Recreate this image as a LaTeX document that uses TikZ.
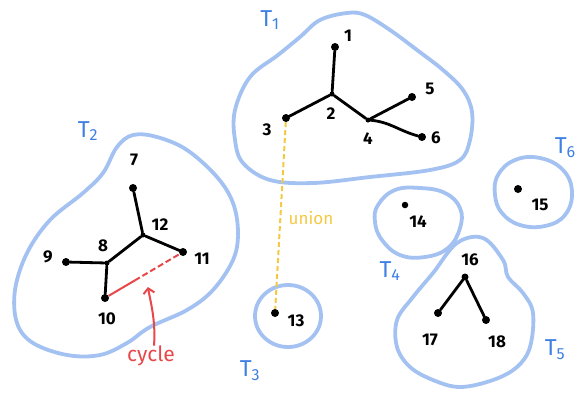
\documentclass[tikz,border=0pt]{standalone}
\usepackage{fontspec}
\setmainfont{Fira Sans}
\usetikzlibrary{arrows.meta,calc}
\definecolor{blobblue}{HTML}{A3C2F2}
\definecolor{tblue}{HTML}{3D7FE3}
\definecolor{uyellow}{HTML}{F5C842}
\definecolor{cred}{HTML}{E8474A}
\tikzset{
  blob/.style={draw=blobblue,line width=3.8pt,line join=round},
  vdot/.style={circle,fill=black,inner sep=0pt,minimum size=8pt},
  jdot/.style={circle,fill=black,inner sep=0pt,minimum size=5pt},
  edge/.style={line width=2.8pt,line cap=round},
  num/.style={font=\fontsize{17}{17}\selectfont\bfseries,inner sep=0pt},
  tlab/.style={font=\fontsize{23}{23}\selectfont,text=tblue,inner sep=0pt},
  unionline/.style={draw=uyellow,line width=2pt,dash pattern=on 5pt off 3pt},
  cycline/.style={draw=cred,line width=2pt},
}
\begin{document}
\begin{tikzpicture}[x=1pt,y=-1pt]
\useasboundingbox (0,0) rectangle (578,392);
% blobs
\draw[blob] plot[smooth cycle,tension=0.6] coordinates {(235,110) (250,77) (278,55) (300,37) (320,20) (347,13) (365,15) (390,30) (417,50) (443,70) (463,90) (472,112) (470,140) (460,160) (430,170) (370,177) (313,183) (270,180) (243,163) (235,140)};
\draw[blob] plot[smooth cycle,tension=0.6] coordinates {(133,135) (157,137) (187,150) (217,177) (233,203) (238,233) (233,260) (213,290) (187,310) (150,327) (127,343) (100,355) (67,355) (33,343) (17,323) (15,290) (27,253) (50,220) (83,193) (103,173) (117,147)};
\draw[blob] (288,316) ellipse [x radius=33pt,y radius=31pt];
\draw[blob] plot[smooth cycle,tension=0.7] coordinates {(378,205) (395,190) (420,188) (445,193) (460,208) (460,228) (448,248) (425,257) (400,255) (382,240) (375,222)};
\draw[blob] plot[smooth cycle,tension=0.7] coordinates {(498,175) (515,160) (540,158) (563,170) (572,192) (565,215) (545,226) (520,225) (502,213) (495,195)};
\draw[blob] plot[smooth cycle,tension=0.6] coordinates {(457,243) (483,238) (503,260) (508,277) (523,293) (533,313) (530,347) (517,367) (493,380) (460,387) (433,380) (410,367) (397,347) (397,320) (413,297) (433,273)};
% T1 nodes
\node[vdot] (n1) at (335,47) {};
\node[jdot] (n2) at (332,94) {};
\node[vdot] (n3) at (286,118) {};
\node[jdot] (n4) at (368,120) {};
\node[vdot] (n5) at (412,97) {};
\node[vdot] (n6) at (422,137) {};
\draw[edge] (n1) -- (n2);
\draw[edge] (n2) -- (n3);
\draw[edge] (n2) -- (n4);
\draw[edge] (n4) -- (n5);
\draw[edge] (n4) to[out=-5,in=165] (n6);
\node[num] (l1) at (348,36) {1};
\node[num] (l2) at (331,114) {2};
\node[num] (l3) at (267,130) {3};
\node[num] (l4) at (368,139) {4};
\node[num] (l5) at (430,89) {5};
\node[num] (l6) at (436,138) {6};
% T2 nodes
\node[vdot] (n7) at (133,188) {};
\node[jdot] (n12) at (143,235) {};
\node[vdot] (n11) at (183,252) {};
\node[jdot] (n8) at (107,263) {};
\node[vdot] (n9) at (66,262) {};
\node[vdot] (n10) at (105,298) {};
\draw[edge] (n7) -- (n12);
\draw[edge] (n12) -- (n11);
\draw[edge] (n12) -- (n8);
\draw[edge] (n8) -- (n9);
\draw[edge] (n8) -- (n10);
\node[num] (l7) at (134,160) {7};
\node[num] (l12) at (160,225) {12};
\node[num] (l11) at (202,259) {11};
\node[num] (l8) at (103,246) {8};
\node[num] (l9) at (48,257) {9};
\node[num] (l10) at (107,319) {10};
\coordinate (cmid) at ($(n10)!0.38!(n11)$);
\draw[cycline] (n10) -- (cmid);
\draw[cycline,dash pattern=on 6pt off 3pt] (cmid) -- (n11);
\node[font=\fontsize{21}{21}\selectfont,text=cred,inner sep=0pt] (cyc) at (151,356) {cycle};
\coordinate (cytip) at (148,287);
\draw[cycline,-{Straight Barb[length=5pt,width=11pt]}] (cyc.north) ++(3,0) .. controls (156,320) and (150,300) .. (cytip);
% T3
\node[vdot] (n13) at (275,313) {};
\node[num] (l13) at (296,321) {13};
\draw[unionline] (n3) -- (n13);
\node[font=\fontsize{17}{17}\selectfont,text=uyellow,inner sep=0pt] (un) at (311,218) {union};
% T4, T6
\node[vdot,minimum size=6.5pt] (n14) at (405,205) {};
\node[num] (l14) at (418,222) {14};
\node[vdot] (n15) at (518,189) {};
\node[num] (l15) at (540,205) {15};
% T5
\node[jdot,minimum size=7pt] (n16) at (465,277) {};
\node[vdot] (n17) at (438,313) {};
\node[vdot] (n18) at (486,320) {};
\draw[edge] (n16) -- (n17);
\draw[edge] (n16) -- (n18);
\node[num] (l16) at (470,260) {16};
\node[num] (l17) at (430,340) {17};
\node[num] (l18) at (497,342) {18};
% tree labels
\node[tlab] (t1) at (270,20) {T\textsubscript{1}};
\node[tlab] (t2) at (88,131) {T\textsubscript{2}};
\node[tlab] (t3) at (250,371) {T\textsubscript{3}};
\node[tlab] (t4) at (390,271) {T\textsubscript{4}};
\node[tlab] (t5) at (555,350) {T\textsubscript{5}};
\node[tlab,anchor=east] (t6) at (576,148) {T\textsubscript{6}};
\end{tikzpicture}
\end{document}
